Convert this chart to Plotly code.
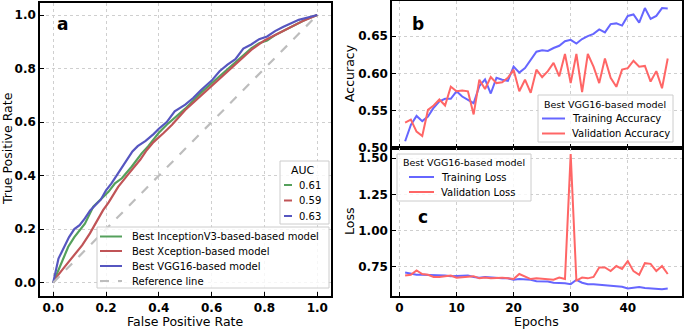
import plotly.graph_objects as go

W, H = 685, 329

# ---------------- data ----------------
# Panel a: ROC curves
fpr_vgg = [0, 0.01, 0.02, 0.03, 0.045, 0.06, 0.08, 0.10, 0.12, 0.14, 0.16, 0.18, 0.20, 0.22, 0.24, 0.26, 0.28, 0.30,
           0.32, 0.35, 0.38, 0.40, 0.43, 0.46, 0.50, 0.53, 0.56, 0.60, 0.63, 0.66, 0.69, 0.72, 0.75, 0.78, 0.81,
           0.84, 0.87, 0.90, 0.93, 0.96, 1.0]
tpr_vgg = [0, 0.05, 0.09, 0.11, 0.14, 0.17, 0.20, 0.215, 0.24, 0.27, 0.29, 0.31, 0.345, 0.37, 0.40, 0.43, 0.46, 0.49,
           0.51, 0.53, 0.555, 0.575, 0.60, 0.64, 0.665, 0.69, 0.72, 0.755, 0.79, 0.815, 0.835, 0.875, 0.89, 0.91,
           0.92, 0.94, 0.955, 0.97, 0.982, 0.99, 1.0]
fpr_inc = [0, 0.025, 0.04, 0.057, 0.08, 0.101, 0.12, 0.152, 0.18, 0.21, 0.234, 0.26, 0.297, 0.335, 0.36, 0.379,
           0.40, 0.43, 0.46, 0.50, 0.53, 0.56, 0.60, 0.64, 0.68, 0.72, 0.75, 0.78, 0.81, 0.84, 0.87, 0.90, 0.93,
           0.96, 1.0]
tpr_inc = [0, 0.06, 0.10, 0.134, 0.17, 0.197, 0.22, 0.284, 0.31, 0.34, 0.371, 0.39, 0.433, 0.483, 0.51, 0.533,
           0.56, 0.59, 0.615, 0.65, 0.68, 0.71, 0.745, 0.78, 0.815, 0.85, 0.875, 0.895, 0.905, 0.925, 0.94, 0.955,
           0.97, 0.985, 1.0]
fpr_xce = [0, 0.02, 0.044, 0.065, 0.088, 0.11, 0.139, 0.16, 0.189, 0.21, 0.246, 0.28, 0.309, 0.33, 0.354, 0.38,
           0.417, 0.45, 0.50, 0.55, 0.60, 0.65, 0.70, 0.75, 0.80, 0.85, 0.90, 0.95, 1.0]
tpr_xce = [0, 0.03, 0.06, 0.085, 0.11, 0.14, 0.184, 0.22, 0.271, 0.30, 0.358, 0.40, 0.433, 0.46, 0.495, 0.525,
           0.558, 0.59, 0.645, 0.69, 0.735, 0.78, 0.826, 0.87, 0.905, 0.93, 0.955, 0.98, 1.0]
ref_line = [0, 1]
roc_names = ["Best InceptionV3-based-based model", "Best Xception-based model", "Best VGG16-based model",
             "Reference line"]
auc_values = ["0.61", "0.59", "0.63"]

# Panels b, c: training history
epochs = list(range(1, 48))
train_acc = [0.509, 0.531, 0.543, 0.536, 0.542, 0.554, 0.5625, 0.566, 0.566, 0.576, 0.569, 0.565, 0.560, 0.583,
             0.592, 0.573, 0.594, 0.5915, 0.590, 0.609, 0.601, 0.607, 0.618, 0.629, 0.631, 0.630, 0.634, 0.637,
             0.643, 0.645, 0.640, 0.646, 0.650, 0.653, 0.659, 0.655, 0.666, 0.667, 0.664, 0.677, 0.679, 0.668,
             0.6875, 0.673, 0.677, 0.6875, 0.687]
val_acc = [0.534, 0.538, 0.522, 0.516, 0.551, 0.557, 0.565, 0.557, 0.582, 0.576, 0.577, 0.576, 0.545, 0.5915,
           0.579, 0.595, 0.587, 0.588, 0.594, 0.605, 0.576, 0.5915, 0.574, 0.605, 0.595, 0.603, 0.614, 0.596,
           0.626, 0.587, 0.626, 0.575, 0.626, 0.609, 0.587, 0.620, 0.594, 0.582, 0.605, 0.607, 0.617, 0.609,
           0.610, 0.589, 0.603, 0.580, 0.620]
train_loss = [0.71, 0.70, 0.695, 0.695, 0.695, 0.69, 0.69, 0.69, 0.685, 0.685, 0.685, 0.69, 0.68, 0.675, 0.68,
              0.675, 0.675, 0.67, 0.67, 0.66, 0.665, 0.665, 0.66, 0.65, 0.65, 0.648, 0.64, 0.64, 0.636, 0.63,
              0.66, 0.64, 0.63, 0.63, 0.625, 0.622, 0.62, 0.615, 0.612, 0.60, 0.605, 0.61, 0.603, 0.60, 0.60,
              0.595, 0.60]
val_loss = [0.69, 0.695, 0.725, 0.70, 0.695, 0.68, 0.68, 0.685, 0.69, 0.675, 0.68, 0.68, 0.685, 0.67, 0.675,
            0.67, 0.675, 0.675, 0.67, 0.665, 0.70, 0.68, 0.665, 0.67, 0.665, 0.665, 0.66, 0.675, 0.665, 1.53,
            0.655, 0.675, 0.67, 0.68, 0.745, 0.745, 0.72, 0.755, 0.735, 0.79, 0.72, 0.695, 0.775, 0.77, 0.72,
            0.755, 0.70]
hist_title = "Best VGG16-based model"
acc_names = ["Training Accuracy", "Validation Accuracy"]
loss_names = ["Training Loss", "Validation Loss"]

# ---------------- styles ----------------
C_GREEN, C_RED, C_BLUE, C_REF = "#55a05c", "#c05457", "#5656c0", "#bdbdbd"
C_TB, C_VR = "#6666ff", "#ff6666"
FONT = "DejaVu Sans"


def px(x):
    return x / W


def py(y):
    return 1 - y / H


fig = go.Figure()

# panel a
fig.add_trace(go.Scatter(x=fpr_inc, y=tpr_inc, mode="lines", line=dict(color=C_GREEN, width=2.2),
                         xaxis="x", yaxis="y", showlegend=False))
fig.add_trace(go.Scatter(x=fpr_xce, y=tpr_xce, mode="lines", line=dict(color=C_RED, width=2.2),
                         xaxis="x", yaxis="y", showlegend=False))
fig.add_trace(go.Scatter(x=fpr_vgg, y=tpr_vgg, mode="lines", line=dict(color=C_BLUE, width=2.2),
                         xaxis="x", yaxis="y", showlegend=False))
fig.add_trace(go.Scatter(x=ref_line, y=ref_line, mode="lines", line=dict(color=C_REF, width=2.2, dash="dash"),
                         xaxis="x", yaxis="y", showlegend=False))
# panel b
fig.add_trace(go.Scatter(x=epochs, y=train_acc, mode="lines", line=dict(color=C_TB, width=2),
                         xaxis="x2", yaxis="y2", showlegend=False))
fig.add_trace(go.Scatter(x=epochs, y=val_acc, mode="lines", line=dict(color=C_VR, width=2),
                         xaxis="x2", yaxis="y2", showlegend=False))
# panel c
fig.add_trace(go.Scatter(x=epochs, y=train_loss, mode="lines", line=dict(color=C_TB, width=2),
                         xaxis="x3", yaxis="y3", showlegend=False))
fig.add_trace(go.Scatter(x=epochs, y=val_loss, mode="lines", line=dict(color=C_VR, width=2),
                         xaxis="x3", yaxis="y3", showlegend=False))

tickfont = dict(family=FONT, size=12, color="black", weight="bold")
common = dict(showline=True, linecolor="black", linewidth=1.5, mirror=True, ticks="inside", ticklen=4,
              tickwidth=1, tickcolor="black", showgrid=True, gridcolor="#cfcfcf", griddash="dot",
              gridwidth=1, zeroline=False, tickfont=tickfont, automargin=False)

A_X = [px(40), px(331)]
B_X = [px(392), px(682)]
fig.update_layout(
    width=W, height=H, margin=dict(l=0, r=0, t=0, b=0, autoexpand=False),
    paper_bgcolor="white", plot_bgcolor="white",
    xaxis=dict(domain=A_X, range=[-0.05, 1.052], tickvals=[0, 0.2, 0.4, 0.6, 0.8, 1.0], tickformat=".1f",
               anchor="y", **common),
    yaxis=dict(domain=[py(296), py(3)], range=[-0.05, 1.045], tickvals=[0, 0.2, 0.4, 0.6, 0.8, 1.0],
               tickformat=".1f", anchor="x", **common),
    xaxis2=dict(domain=B_X, range=[-1.3, 49.5], tickvals=[0, 10, 20, 30, 40], showticklabels=False,
                anchor="y2", **common),
    yaxis2=dict(domain=[py(148), py(1)], range=[0.50, 0.697], tickvals=[0.50, 0.55, 0.60, 0.65],
                tickformat=".2f", anchor="x2", **common),
    xaxis3=dict(domain=B_X, range=[-1.3, 49.5], tickvals=[0, 10, 20, 30, 40], anchor="y3", **common),
    yaxis3=dict(domain=[py(296), py(148)], range=[0.548, 1.571], tickvals=[0.75, 1.00, 1.25, 1.50],
                tickformat=".2f", anchor="x3", **common),
)

ann = []
shapes = []


def text(x, y, s, size=10, bold=False, xanchor="left", angle=0):
    ann.append(dict(x=px(x), y=py(y), xref="paper", yref="paper", text=s, showarrow=False,
                    xanchor=xanchor, yanchor="middle", textangle=angle,
                    font=dict(family=FONT, size=size, color="black", weight="bold" if bold else "normal")))


def box(x0, y0, x1, y1):
    shapes.append(dict(type="rect", xref="paper", yref="paper", x0=px(x0), x1=px(x1), y0=py(y1), y1=py(y0),
                       line=dict(color="#cccccc", width=1), fillcolor="rgba(255,255,255,0.8)", layer="above"))


def sample(x0, x1, y, color, dash="solid", width=2):
    shapes.append(dict(type="line", xref="paper", yref="paper", x0=px(x0), x1=px(x1), y0=py(y), y1=py(y),
                       line=dict(color=color, width=width, dash=dash), layer="above"))


# axis titles
text(7, 149, "True Positive Rate", size=12.5, xanchor="center", angle=-90)
text(185, 321.5, "False Positive Rate", size=12.5, xanchor="center")
text(349, 73, "Accuracy", size=12.5, xanchor="center", angle=-90)
text(349, 222, "Loss", size=12.5, xanchor="center", angle=-90)
text(536, 321.5, "Epochs", size=12.5, xanchor="center")

# panel letters
text(63, 24, "a", size=17, bold=True, xanchor="center")
text(418, 24, "b", size=17, bold=True, xanchor="center")
text(423, 217, "c", size=17, bold=True, xanchor="center")

# panel a legends
box(280, 161, 329, 224)
text(303, 170, "AUC", size=11, xanchor="center")
for yy, col, s in zip([185, 200.5, 216], [C_GREEN, C_RED, C_BLUE], auc_values):
    sample(284, 292, yy, col)
    text(297, yy, s, size=10)

box(97, 227, 329, 288)
for yy, col, s, d in zip([236.5, 251, 266, 281], [C_GREEN, C_RED, C_BLUE, C_REF], roc_names,
                         ["solid", "solid", "solid", "dash"]):
    sample(100, 122, yy, col, dash=d)
    text(130, yy, s, size=10)

# panel b legend
box(538, 95, 673, 142)
text(605, 104, hist_title, size=9.5, xanchor="center")
for yy, col, s in zip([118.5, 133.5], [C_TB, C_VR], acc_names):
    sample(542, 565, yy, col)
    text(570, yy, s, size=10)

# panel c legend
box(397, 154, 531, 201)
text(464, 162.5, hist_title, size=9.5, xanchor="center")
for yy, col, s in zip([177, 192], [C_TB, C_VR], loss_names):
    sample(409, 434, yy, col)
    text(439, yy, s, size=10)

fig.update_layout(annotations=ann, shapes=shapes)
fig.write_html("out.html", config={"displayModeBar": False},
               post_script="document.body.style.margin='0';document.body.style.padding='0';")
